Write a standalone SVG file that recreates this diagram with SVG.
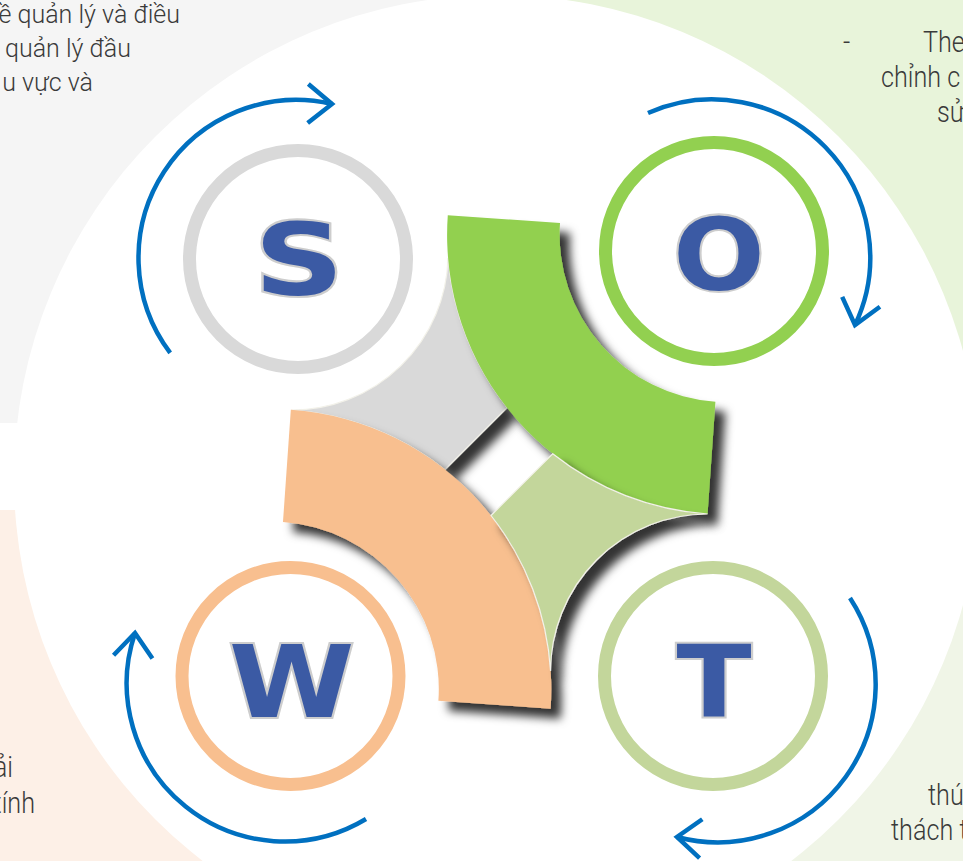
<svg xmlns="http://www.w3.org/2000/svg" width="963" height="861" viewBox="0 0 963 861">
  <defs>
    <style>
      .ring { fill: none; stroke-width: 13; }
      .arrow { fill: none; stroke: #0070c0; stroke-width: 4.5; stroke-linecap: butt; }
      .head { fill: none; stroke: #0070c0; stroke-width: 4.5; stroke-linejoin: miter; }
      .letter { font-family: "DejaVu Sans", "Liberation Sans", sans-serif; font-weight: bold; font-size: 100px; fill: #3b5aa4; stroke: #cdcdcd; stroke-width: 4; paint-order: stroke; text-anchor: middle; }
      .note { font-family: Roboto, "Noto Sans", "Liberation Sans", sans-serif; font-weight: 300; fill: #3a3a3a; }
      .note-l { font-size: 25px; text-anchor: end; }
      .note-c { font-size: 30px; }
      .edge { stroke: #f3f2ea; stroke-width: 1.2; }
    </style>
    <filter id="shadow" x="-20%" y="-20%" width="150%" height="150%">
      <feDropShadow dx="10" dy="10" stdDeviation="5" flood-color="#000" flood-opacity="0.8"/>
    </filter>
    <!-- open chevron, tip at origin, pointing along +x -->
    <path id="head" class="head" d="M -24,-19.5 L 0,0 L -24,19.5"/>
  </defs>

  <!-- quadrant panels -->
  <rect width="963" height="861" fill="#ffffff"/>
  <rect x="0" y="0" width="453" height="423" fill="#f5f5f5"/>
  <rect x="552" y="0" width="411" height="400" fill="#e8f4da"/>
  <rect x="0" y="510" width="470" height="351" fill="#fdf0e7"/>
  <rect x="490" y="560" width="473" height="301" fill="#f0f5e7"/>

  <!-- central disc -->
  <circle cx="497" cy="478" r="483" fill="#ffffff"/>

  <!-- panel texts -->
  <g id="notes" class="note">
    <text class="note-l" x="180" y="23">ề quản lý và điều</text>
    <text class="note-l" x="131" y="57">quản lý đầu</text>
    <text class="note-l" x="93" y="91">u vực và</text>

    <text class="note-c" transform="translate(843,52) scale(0.84,1)">-</text>
    <text class="note-c" transform="translate(923,52) scale(0.84,1)">The</text>
    <text class="note-c" transform="translate(881,87) scale(0.84,1)">chỉnh c</text>
    <text class="note-c" transform="translate(937,122) scale(0.84,1)">sử</text>

    <text class="note-c" text-anchor="end" transform="translate(13,777) scale(0.84,1)">ải</text>
    <text class="note-c" text-anchor="end" transform="translate(35,813) scale(0.84,1)">tính</text>

    <text class="note-c" transform="translate(928,805) scale(0.84,1)">thú</text>
    <text class="note-c" transform="translate(891,840) scale(0.84,1)">thách t</text>
  </g>

  <!-- central emblem: two petals and two thick quarter arcs -->
  <g id="core">
    <g filter="url(#shadow)">
      <path class="edge" fill="#d9d9d9" d="M 445,469.5 L 506.9,407.6 A 280 280 0 0 1 448,258 A 156 156 0 0 1 291,410 A 280 280 0 0 1 445,469.5 Z"/>
    </g>
    <g filter="url(#shadow)">
      <path fill="#f8bf8f" transform="translate(271.3,689.1) rotate(4)" d="M 280,0 L 167.5,0 A 167.5 167.5 0 0 0 0,-167.5 L 0,-280 A 280 280 0 0 1 280,0 Z"/>
    </g>
    <g filter="url(#shadow)">
      <path fill="#92d050" transform="translate(727.1,234.7) rotate(4)" d="M -280,0 L -167.5,0 A 167.5 167.5 0 0 0 0,167.5 L 0,280 A 280 280 0 0 1 -280,0 Z"/>
    </g>
    <g filter="url(#shadow)">
      <path class="edge" fill="#c3d69b" d="M 491,515.5 L 552.7,453.8 A 280 280 0 0 0 707.6,514 A 157 157 0 0 0 550.6,671 A 280 280 0 0 0 491,515.5 Z"/>
    </g>
  </g>

  <!-- letter nodes -->
  <g id="node-s">
    <circle class="ring" cx="298" cy="259" r="108.5" stroke="#d9d9d9"/>
    <text class="letter" transform="translate(299,295) scale(1.25,1)">S</text>
  </g>
  <g id="node-o">
    <circle class="ring" cx="714" cy="251" r="108.5" stroke="#92d050"/>
    <text class="letter" transform="translate(719,290) scale(1.08,1)">O</text>
  </g>
  <g id="node-w">
    <circle class="ring" cx="290.5" cy="676" r="108.5" stroke="#f8bf8f"/>
    <text class="letter" transform="translate(291.5,717) scale(1.14,1)">W</text>
  </g>
  <g id="node-t">
    <circle class="ring" cx="713" cy="676" r="108.5" stroke="#c3d69b"/>
    <text class="letter" transform="translate(714,717) scale(1.1,1)">T</text>
  </g>

  <!-- circular arrows around each node -->
  <g id="connectors">
    <path class="arrow" d="M 170.2,352.9 A 158 158 0 0 1 332,104"/>
    <use href="#head" transform="translate(332,104) rotate(1)"/>

    <path class="arrow" d="M 648,113 A 158 158 0 0 1 855,325"/>
    <use href="#head" transform="translate(855,325) rotate(104.6)"/>

    <path class="arrow" d="M 850,598 A 158 158 0 0 1 677,837"/>
    <use href="#head" transform="translate(677,837) rotate(184)"/>

    <path class="arrow" d="M 366,819 A 158 158 0 0 1 135,633"/>
    <use href="#head" transform="translate(135,633) rotate(-85.2)"/>
  </g>
</svg>
